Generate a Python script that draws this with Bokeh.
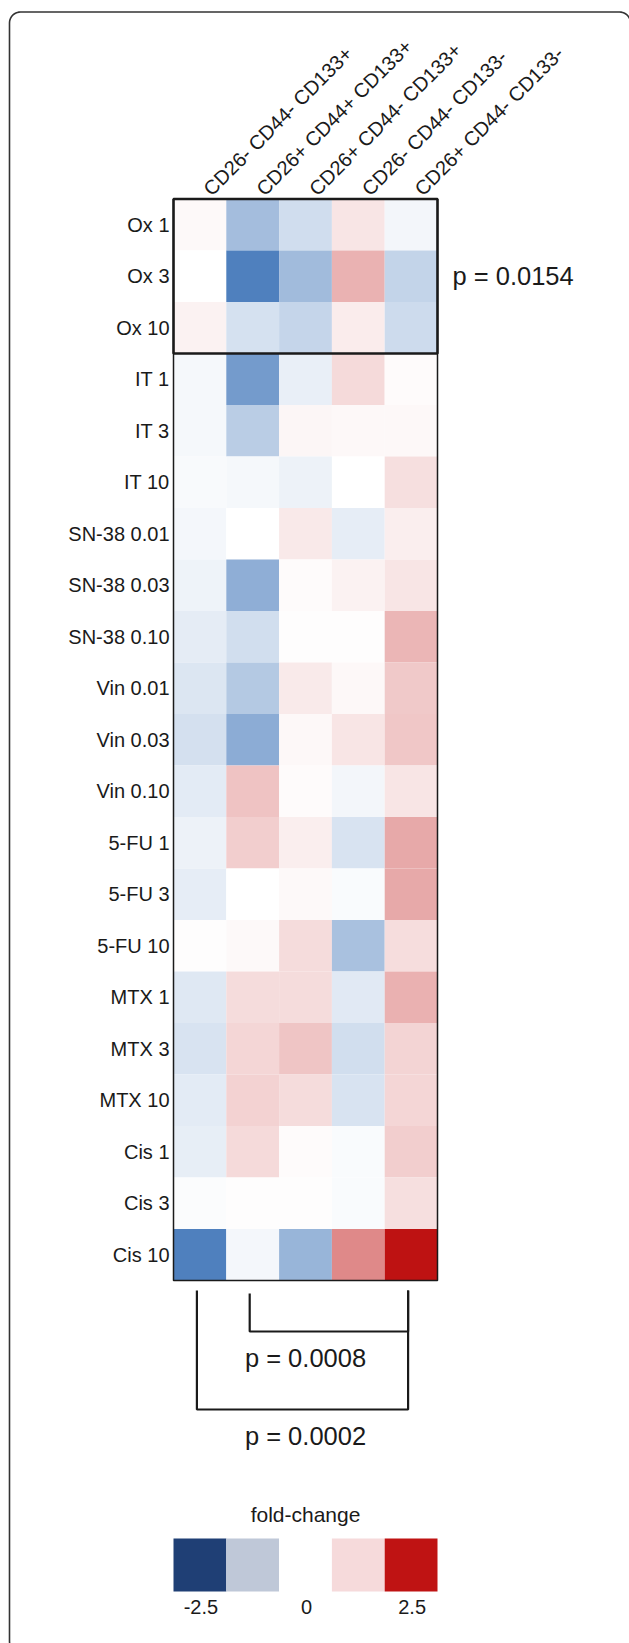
import numpy as np
from bokeh.plotting import figure
from bokeh.models import Range1d, LinearColorMapper, ColumnDataSource
from bokeh.core.properties import value
from bokeh.embed import file_html
from bokeh.resources import INLINE

# ---------------- data ----------------
rows = ["Ox 1", "Ox 3", "Ox 10", "IT 1", "IT 3", "IT 10",
        "SN-38 0.01", "SN-38 0.03", "SN-38 0.10",
        "Vin 0.01", "Vin 0.03", "Vin 0.10",
        "5-FU 1", "5-FU 3", "5-FU 10",
        "MTX 1", "MTX 3", "MTX 10",
        "Cis 1", "Cis 3", "Cis 10"]
cols = ["CD26- CD44- CD133+", "CD26+ CD44+ CD133+", "CD26+ CD44- CD133+",
        "CD26- CD44- CD133-", "CD26+ CD44- CD133-"]

col1_vals = [0.05, 0.00, 0.13, -0.13, -0.13, -0.10, -0.16, -0.23, -0.37, -0.50, -0.60,
             -0.40, -0.26, -0.35, 0.02, -0.45, -0.55, -0.40, -0.33, -0.06, -2.50]
col2_vals = [-1.30, -2.50, -0.58, -1.97, -0.99, -0.14, 0.00, -1.58, -0.64, -1.05, -1.63,
             0.62, 0.51, 0.00, 0.06, 0.37, 0.43, 0.47, 0.39, 0.02, -0.16]
col3_vals = [-0.67, -1.33, -0.83, -0.31, 0.10, -0.26, 0.23, 0.03, 0.01, 0.22, 0.07,
             0.04, 0.18, 0.05, 0.37, 0.37, 0.61, 0.37, 0.04, 0.01, -1.45]
col4_vals = [0.28, 0.80, 0.19, 0.39, 0.08, 0.00, -0.36, 0.13, 0.01, 0.07, 0.27,
             -0.17, -0.54, -0.07, -1.22, -0.43, -0.64, -0.54, -0.08, -0.08, 1.23]
col5_vals = [-0.17, -0.85, -0.70, 0.03, 0.08, 0.33, 0.18, 0.27, 0.76, 0.57, 0.58,
             0.28, 0.91, 0.91, 0.36, 0.82, 0.46, 0.44, 0.51, 0.34, 2.50]

ox_group_rows = [0, 2]            # first and last row of the boxed Oxaliplatin group
ox_group_p = "p = 0.0154"
bracket_cols = [(1, 4), (0, 4)]   # column pairs compared below the heatmap
bracket_p = ["p = 0.0008", "p = 0.0002"]

legend_title = "fold-change"
legend_values = [-2.5, -1.25, 0.0, 1.25, 2.5]
legend_colors = ["#1f3f75", "#bfc8d8", "#ffffff", "#f6dadb", "#bf1313"]
legend_tick_labels = ["-2.5", "0", "2.5"]
legend_tick_index = [0, 2, 4]

# ---------------- layout / style ----------------
W, H = 629, 1643
X0, CW = 173.0, 52.8      # heatmap left edge and column width (page px)
Y0, RH = 198.5, 51.5      # heatmap top edge and row height
FONT = "Liberation Sans"
TXT = "#1a1a1a"
BLUE_END = (79, 128, 190)
RED_END = (190, 18, 18)

def make_palette(n=255):
    out = []
    for t in np.linspace(-1, 1, n):
        end = BLUE_END if t < 0 else RED_END
        a = abs(t)
        r, g, b = [int(round(255 + (e - 255) * a)) for e in end]
        out.append("#%02x%02x%02x" % (r, g, b))
    return out

mapper = LinearColorMapper(palette=make_palette(), low=-2.5, high=2.5)

p = figure(width=W, height=H, x_range=Range1d(0, W), y_range=Range1d(H, 0),
           output_backend="svg", toolbar_location=None, min_border=0,
           x_axis_type=None, y_axis_type=None)
p.outline_line_color = None
p.xgrid.visible = False
p.ygrid.visible = False
p.background_fill_color = "white"
p.border_fill_color = "white"

# outer rounded frame (decoration)
def corner(cxx, cyy, r, a0, a1, n=12):
    t = np.linspace(a0, a1, n)
    return list(cxx + r * np.cos(t)), list(cyy + r * np.sin(t))

FL, FT, FR, FB, FRAD = 9.0, 11.5, 630.0, 1652.0, 11.0
fx, fy = [], []
ax_, ay_ = corner(FL + FRAD, FB - FRAD, FRAD, np.pi / 2, np.pi)
fx += ax_; fy += ay_
ax_, ay_ = corner(FL + FRAD, FT + FRAD, FRAD, np.pi, 1.5 * np.pi)
fx += ax_; fy += ay_
ax_, ay_ = corner(FR - FRAD, FT + FRAD, FRAD, 1.5 * np.pi, 2 * np.pi)
fx += ax_; fy += ay_
fx += [FR]; fy += [FB]
p.line(fx, fy, line_color="#333333", line_width=1.6)

def cx(i):
    return X0 + (i + 0.5) * CW

def cy(j):
    return Y0 + (j + 0.5) * RH

# heatmap cells
all_cols = [col1_vals, col2_vals, col3_vals, col4_vals, col5_vals]
xs, ys, vals = [], [], []
for i, cv in enumerate(all_cols):
    for j, v in enumerate(cv):
        xs.append(cx(i))
        ys.append(cy(j))
        vals.append(v)
src = ColumnDataSource(dict(x=xs, y=ys, v=vals))
p.rect(x="x", y="y", width=CW, height=RH, source=src,
       fill_color={"field": "v", "transform": mapper}, line_color=None)

# heatmap border
nr, nc = len(rows), len(cols)
p.rect(x=[X0 + nc * CW / 2], y=[Y0 + nr * RH / 2], width=nc * CW, height=nr * RH,
       fill_alpha=0, line_color="#1a1a1a", line_width=1.5)
# Ox group box
g0, g1 = ox_group_rows
p.rect(x=[X0 + nc * CW / 2], y=[Y0 + (g0 + g1 + 1) * RH / 2], width=nc * CW,
       height=(g1 - g0 + 1) * RH, fill_alpha=0, line_color="#1a1a1a", line_width=2.5)

# row labels
p.text(x=[X0 - 4] * nr, y=[cy(j) for j in range(nr)], text=rows,
       text_align="right", text_baseline="middle", text_font=value(FONT),
       text_font_size="20px", text_color=TXT)

# column labels (45 degrees)
p.text(x=[cx(i) + 7 for i in range(nc)], y=[Y0 - 7] * nc, text=cols, angle=np.pi / 4,
       text_align="left", text_baseline="alphabetic", text_font=value(FONT),
       text_font_size="20px", text_color=TXT)

# group p-value on the right
p.text(x=[X0 + nc * CW + 15], y=[Y0 + (g0 + g1 + 1) * RH / 2], text=[ox_group_p],
       text_align="left", text_baseline="middle", text_font=value(FONT),
       text_font_size="25.5px", text_color=TXT)

# brackets below the heatmap
bottom = Y0 + nr * RH
tops = [bottom + 13, bottom + 10]
lows = [bottom + 51, bottom + 129]
bx, by = [], []
for (a, b), t, lo in zip(bracket_cols, tops, lows):
    xl, xr = cx(a) - 3, cx(b) - 3
    bx.append([xl, xl, xr, xr])
    by.append([t, lo, lo, bottom + 10])
p.multi_line(xs=bx, ys=by, line_color="#1a1a1a", line_width=2.2)
p.text(x=[X0 + nc * CW / 2] * 2, y=[lo + 26 for lo in lows], text=bracket_p,
       text_align="center", text_baseline="middle", text_font=value(FONT),
       text_font_size="25.5px", text_color=TXT)

# legend
LY0, LH = 1538, 53
p.text(x=[X0 + nc * CW / 2], y=[LY0 - 24], text=[legend_title], text_align="center",
       text_baseline="middle", text_font=value(FONT), text_font_size="21px",
       text_color=TXT)
p.rect(x=[cx(i) for i in range(len(legend_values))], y=[LY0 + LH / 2] * len(legend_values),
       width=CW, height=LH, fill_color=legend_colors, line_color=None)
p.text(x=[cx(i) + 1 for i in legend_tick_index], y=[LY0 + LH + 15] * len(legend_tick_index),
       text=legend_tick_labels, text_align="center", text_baseline="middle",
       text_font=value(FONT), text_font_size="20px", text_color=TXT)

open("out.html", "w").write(file_html(p, INLINE))
